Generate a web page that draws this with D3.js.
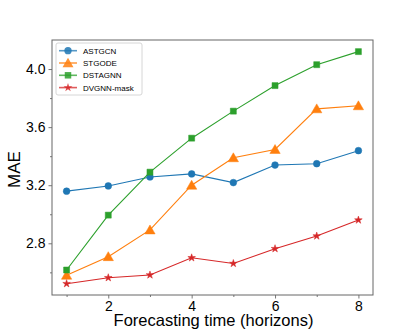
<!DOCTYPE html>
<meta charset="utf-8">
<style>
  body { margin: 0; background: #fff; }
  text { font-family: "Liberation Sans", Arial, sans-serif; fill: #000; }
</style>
<body>
<script src="https://cdn.jsdelivr.net/npm/d3@7"></script>
<script>
  var horizons = [1, 2, 3, 4, 5, 6, 7, 8];
  var astgcn = [3.159, 3.195, 3.257, 3.278, 3.218, 3.339, 3.348, 3.438];
  var stgode = [2.58, 2.708, 2.892, 3.2, 3.389, 3.446, 3.726, 3.747];
  var dstagnn = [2.616, 2.994, 3.29, 3.524, 3.71, 3.886, 4.03, 4.12];
  var dvgnn = [2.522, 2.563, 2.582, 2.70, 2.661, 2.763, 2.85, 2.96];
  var seriesNames = ["ASTGCN", "STGODE", "DSTAGNN", "DVGNN-mask"];
  var yTicks = [2.8, 3.2, 3.6, 4.0];
  var yMinor = [2.6, 3.0, 3.4, 3.8];
  var xTicks = [2, 4, 6, 8];
  var xMinor = [1, 3, 5, 7];

  var series = [
    { name: seriesNames[0], values: astgcn, color: "#1f77b4", marker: d3.symbolCircle, size: 36 },
    { name: seriesNames[1], values: stgode, color: "#ff7f0e", marker: d3.symbolTriangle, size: 46 },
    { name: seriesNames[2], values: dstagnn, color: "#2ca02c", marker: d3.symbolSquare, size: 36 },
    { name: seriesNames[3], values: dvgnn, color: "#d62728", marker: d3.symbolStar, size: 18 }
  ];

  var width = 415, height = 332;
  var m = { left: 52, top: 40, right: 373, bottom: 295 };

  var x = d3.scaleLinear().domain([0.65, 8.35]).range([m.left, m.right]);
  var y = d3.scaleLinear().domain([2.444, 4.20]).range([m.bottom, m.top]);

  var svg = d3.select("body").append("svg")
    .attr("width", width)
    .attr("height", height);

  // axes
  svg.append("g")
    .attr("transform", "translate(0," + m.bottom + ")")
    .call(d3.axisBottom(x).tickValues(xTicks).tickFormat(d3.format("d")).tickSize(3.5).tickPadding(3));
  svg.append("g").attr("class", "minor")
    .attr("transform", "translate(0," + m.bottom + ")")
    .call(d3.axisBottom(x).tickValues(xMinor).tickSize(2));
  svg.append("g")
    .attr("transform", "translate(" + m.left + ",0)")
    .call(d3.axisLeft(y).tickValues(yTicks).tickFormat(d3.format(".1f")).tickSize(3.5).tickPadding(3));
  svg.append("g").attr("class", "minor")
    .attr("transform", "translate(" + m.left + ",0)")
    .call(d3.axisLeft(y).tickValues(yMinor).tickSize(2));

  svg.selectAll(".minor .tick text").remove();
  svg.selectAll(".domain").remove();
  svg.selectAll(".tick line").attr("stroke", "#555").attr("stroke-width", 0.8);
  svg.selectAll(".tick text").style("font-size", "14px").attr("fill", "#000");

  svg.append("rect")
    .attr("x", m.left).attr("y", m.top)
    .attr("width", m.right - m.left).attr("height", m.bottom - m.top)
    .attr("fill", "none")
    .attr("stroke", "#666")
    .attr("stroke-width", 1);

  var line = d3.line()
    .x(function(d, i) { return x(horizons[i]); })
    .y(function(d) { return y(d); });

  series.forEach(function(s) {
    var g = svg.append("g");
    g.append("path")
      .attr("d", line(s.values))
      .attr("fill", "none")
      .attr("stroke", s.color)
      .attr("stroke-width", 1.1);
    g.selectAll("path.m")
      .data(s.values)
      .join("path")
      .attr("class", "m")
      .attr("transform", function(d, i) {
        var dy = s.marker === d3.symbolTriangle ? 1 : 0;
        return "translate(" + x(horizons[i]) + "," + (y(d) + dy) + ")";
      })
      .attr("d", d3.symbol().type(s.marker).size(s.size))
      .attr("fill", s.color)
      .attr("stroke", s.color)
      .attr("stroke-opacity", 0.5)
      .attr("stroke-width", 1);
  });

  // legend
  var lg = svg.append("g").attr("transform", "translate(56,43)");
  lg.append("rect")
    .attr("width", 86).attr("height", 52)
    .attr("rx", 2)
    .attr("fill", "#fff").attr("fill-opacity", 0.8)
    .attr("stroke", "#ccc").attr("stroke-width", 0.8);
  series.forEach(function(s, i) {
    var yy = 7.7 + i * 12.3;
    lg.append("line")
      .attr("x1", 3).attr("x2", 21).attr("y1", yy).attr("y2", yy)
      .attr("stroke", s.color).attr("stroke-width", 1.6).attr("stroke-opacity", 0.75);
    lg.append("path")
      .attr("transform", "translate(12," + (yy + (s.marker === d3.symbolTriangle ? 1 : 0)) + ")")
      .attr("d", d3.symbol().type(s.marker).size(s.size + 6))
      .attr("fill", s.color).attr("fill-opacity", 0.85);
    lg.append("text")
      .attr("x", 27).attr("y", yy + 3)
      .style("font-size", "8px")
      .text(s.name);
  });

  // labels
  svg.append("text")
    .attr("x", (m.left + m.right) / 2 + 1).attr("y", 326)
    .attr("text-anchor", "middle")
    .style("font-size", "16.5px")
    .text("Forecasting time (horizons)");
  svg.append("text")
    .attr("transform", "translate(20," + ((m.top + m.bottom) / 2 + 2) + ") rotate(-90)")
    .attr("text-anchor", "middle")
    .style("font-size", "17px")
    .text("MAE");
</script>
</body>
